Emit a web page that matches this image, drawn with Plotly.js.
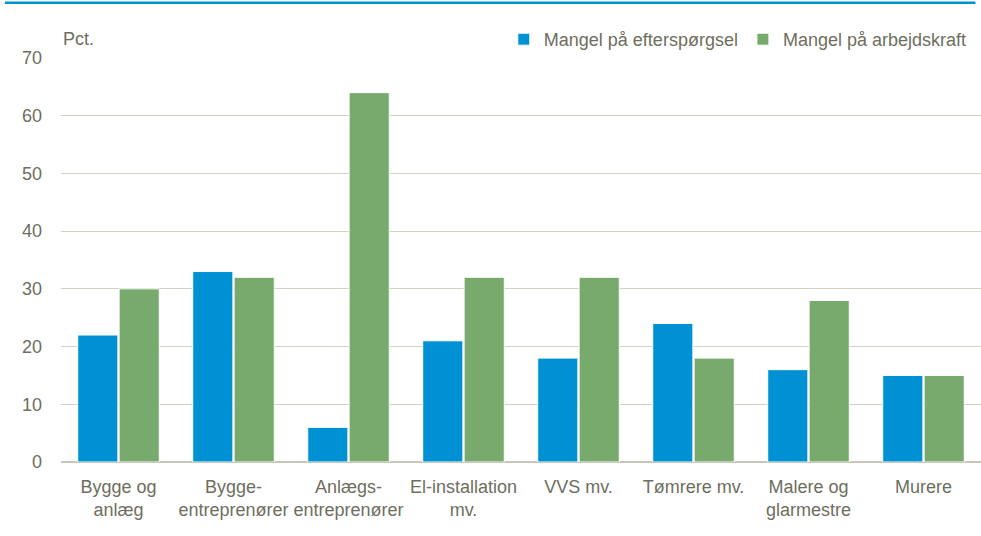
<!DOCTYPE html>
<html>
<head>
<meta charset="utf-8">
<script src="https://cdn.plot.ly/plotly-3.0.1.min.js"></script>
<style>html,body{margin:0;padding:0;background:#fff;}#chart{width:981px;height:536px;}</style>
</head>
<body>
<div id="chart"></div>
<script>
const categories = ["Bygge og<br>anlæg", "Bygge-<br>entreprenører", "Anlægs-<br>entreprenører", "El-installation<br>mv.", "VVS mv.", "Tømrere mv.", "Malere og<br>glarmestre", "Murere"];
const seriesNames = ["Mangel på efterspørgsel", "Mangel på arbejdskraft"];
const efterspoergsel = [22, 33, 6, 21, 18, 24, 16, 15];
const arbejdskraft = [30, 32, 64, 32, 32, 18, 28, 15];
const yTicks = [0, 10, 20, 30, 40, 50, 60, 70];

const FONT = "'Liberation Sans Narrow', 'Arial Narrow', 'Liberation Sans', Arial, sans-serif";
const TXT = "#6e6e5e";

const traces = [
  {type: "bar", name: seriesNames[0], x: categories, y: efterspoergsel,
   marker: {color: "#0090d4", line: {color: "#ffffff", width: 1}}, hoverinfo: "y"},
  {type: "bar", name: seriesNames[1], x: categories, y: arbejdskraft,
   marker: {color: "#78aa6e", line: {color: "#ffffff", width: 1}}, hoverinfo: "y"}
];

const layout = {
  width: 981, height: 536,
  margin: {l: 61, r: 0, t: 58, b: 74},
  paper_bgcolor: "#ffffff", plot_bgcolor: "#ffffff",
  font: {family: FONT, size: 18, color: TXT},
  barmode: "group", bargap: 0.28, bargroupgap: 0.03,
  showlegend: true,
  legend: {orientation: "h", x: 0.99, xanchor: "right", y: 1.0, yanchor: "bottom",
           font: {family: FONT, size: 18, color: TXT}, traceorder: "normal", itemwidth: 30},
  xaxis: {type: "category", showgrid: false, zeroline: false, showline: false, ticks: "",
          ticklabelstandoff: 12,
          tickfont: {family: FONT, size: 18, color: TXT}, fixedrange: true},
  yaxis: {range: [0, 70], tickvals: yTicks, ticktext: yTicks.map(String), showgrid: true,
          gridcolor: "#d2d1c6", gridwidth: 1, zeroline: true, zerolinecolor: "#c8c7ba", zerolinewidth: 1.5,
          showline: false, ticks: "", ticklabelstandoff: 18,
          tickfont: {family: FONT, size: 18, color: TXT}, fixedrange: true},
  annotations: [{text: "Pct.", xref: "paper", yref: "paper", x: 0, y: 1, xanchor: "left", yanchor: "bottom",
                 yshift: 7, showarrow: false, font: {family: FONT, size: 18, color: TXT}}],
  shapes: [{type: "line", xref: "paper", yref: "paper", x0: -0.061, x1: 0.994, y0: 1.137, y1: 1.137,
            line: {color: "#0090d4", width: 2.5}}]
};

Plotly.newPlot("chart", traces, layout, {displayModeBar: false, staticPlot: true});
</script>
</body>
</html>
